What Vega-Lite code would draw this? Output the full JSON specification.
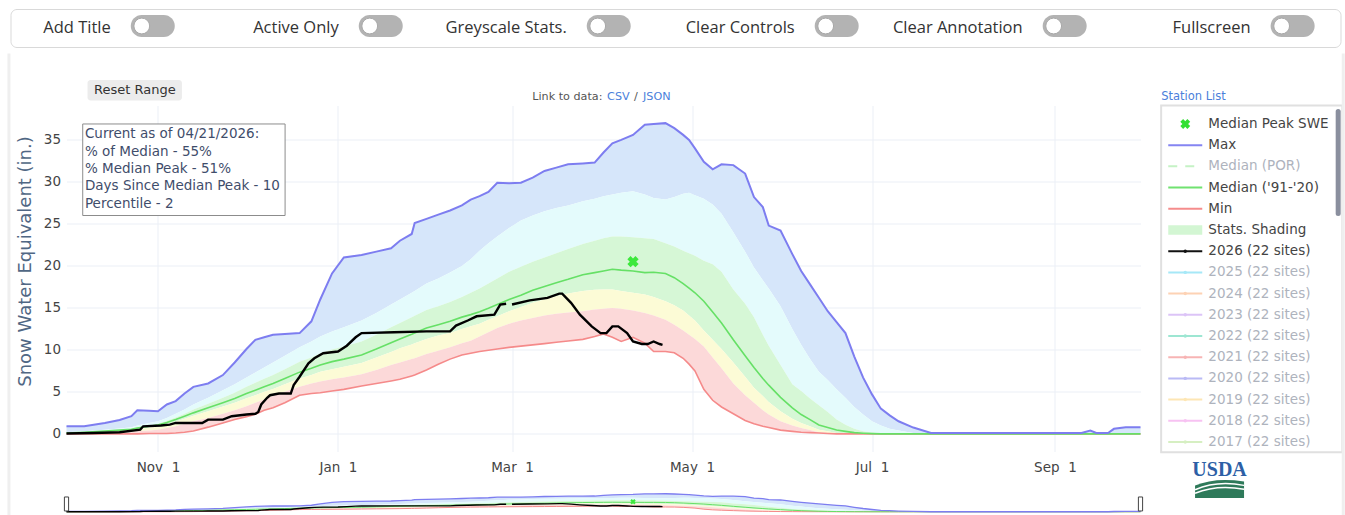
{
"$schema": "https://vega.github.io/schema/vega-lite/v6.json",
"background": "#ffffff",
"padding": {"left": 6.5, "top": 8, "right": 0, "bottom": 0},
"bounds": "flush",
"spacing": 58.5,
"config": {"view": {"stroke": null}, "font": "DejaVu Sans"},
"datasets": {
"stats": [
{"date":"2025-10-01","max":0.9,"p90":0.2,"p70":0.12,"med":0.1,"p30":0.05,"p10":0,"min":0},
{"date":"2025-10-07","max":0.9,"p90":0.3,"p70":0.22,"med":0.2,"p30":0.1,"p10":0.05,"min":0},
{"date":"2025-10-14","max":1.3,"p90":0.5,"p70":0.4,"med":0.35,"p30":0.25,"p10":0.1,"min":0},
{"date":"2025-10-19","max":1.65,"p90":0.65,"p70":0.5,"med":0.45,"p30":0.35,"p10":0.15,"min":0},
{"date":"2025-10-23","max":2.1,"p90":0.8,"p70":0.62,"med":0.55,"p30":0.45,"p10":0.2,"min":0},
{"date":"2025-10-25","max":2.8,"p90":1.0,"p70":0.8,"med":0.7,"p30":0.55,"p10":0.3,"min":0},
{"date":"2025-10-29","max":2.75,"p90":1.3,"p70":1.0,"med":0.9,"p30":0.75,"p10":0.4,"min":0.05},
{"date":"2025-11-01","max":2.7,"p90":1.5,"p70":1.2,"med":1.05,"p30":0.9,"p10":0.5,"min":0.05},
{"date":"2025-11-04","max":3.5,"p90":1.9,"p70":1.55,"med":1.35,"p30":1.15,"p10":0.7,"min":0.05},
{"date":"2025-11-07","max":3.9,"p90":2.4,"p70":1.95,"med":1.7,"p30":1.45,"p10":0.9,"min":0.1},
{"date":"2025-11-10","max":4.8,"p90":2.9,"p70":2.4,"med":2.1,"p30":1.8,"p10":1.2,"min":0.2},
{"date":"2025-11-13","max":5.6,"p90":3.5,"p70":2.9,"med":2.5,"p30":2.15,"p10":1.5,"min":0.35},
{"date":"2025-11-18","max":6.0,"p90":4.3,"p70":3.6,"med":3.1,"p30":2.7,"p10":1.9,"min":0.8},
{"date":"2025-11-23","max":7.0,"p90":5.2,"p70":4.3,"med":3.7,"p30":3.25,"p10":2.4,"min":1.3},
{"date":"2025-11-27","max":8.5,"p90":5.9,"p70":4.9,"med":4.2,"p30":3.7,"p10":2.8,"min":1.7},
{"date":"2025-12-01","max":10.1,"p90":6.7,"p70":5.6,"med":4.8,"p30":4.25,"p10":3.3,"min":2.05},
{"date":"2025-12-04","max":11.2,"p90":7.3,"p70":6.1,"med":5.2,"p30":4.6,"p10":3.7,"min":2.35},
{"date":"2025-12-07","max":11.5,"p90":7.9,"p70":6.55,"med":5.6,"p30":5.0,"p10":4.1,"min":2.8},
{"date":"2025-12-10","max":11.8,"p90":8.5,"p70":7.0,"med":6.0,"p30":5.35,"p10":4.5,"min":3.1},
{"date":"2025-12-14","max":11.9,"p90":9.3,"p70":7.7,"med":6.6,"p30":5.9,"p10":5.0,"min":3.7},
{"date":"2025-12-19","max":12.0,"p90":10.3,"p70":8.6,"med":7.35,"p30":6.6,"p10":5.6,"min":4.6},
{"date":"2025-12-23","max":13.4,"p90":11.0,"p70":9.1,"med":7.8,"p30":7.0,"p10":6.0,"min":4.8},
{"date":"2025-12-26","max":16.0,"p90":11.6,"p70":9.6,"med":8.2,"p30":7.4,"p10":6.25,"min":4.9},
{"date":"2025-12-30","max":19.1,"p90":12.2,"p70":10.05,"med":8.6,"p30":7.7,"p10":6.5,"min":5.1},
{"date":"2026-01-03","max":21.0,"p90":12.7,"p70":10.4,"med":8.9,"p30":8.0,"p10":6.7,"min":5.3},
{"date":"2026-01-09","max":21.3,"p90":13.5,"p70":11.0,"med":9.4,"p30":8.45,"p10":7.1,"min":5.7},
{"date":"2026-01-14","max":21.7,"p90":14.4,"p70":11.8,"med":10.1,"p30":9.1,"p10":7.6,"min":6.0},
{"date":"2026-01-19","max":22.1,"p90":15.4,"p70":12.7,"med":10.85,"p30":9.75,"p10":8.2,"min":6.3},
{"date":"2026-01-22","max":23.0,"p90":16.0,"p70":13.2,"med":11.3,"p30":10.2,"p10":8.5,"min":6.5},
{"date":"2026-01-26","max":23.8,"p90":16.8,"p70":13.9,"med":11.85,"p30":10.65,"p10":8.9,"min":6.9},
{"date":"2026-01-27","max":25.1,"p90":17.0,"p70":14.05,"med":12.0,"p30":10.8,"p10":9.0,"min":7.0},
{"date":"2026-01-31","max":25.6,"p90":17.9,"p70":14.75,"med":12.6,"p30":11.3,"p10":9.5,"min":7.6},
{"date":"2026-02-04","max":26.1,"p90":18.5,"p70":15.2,"med":13.0,"p30":11.7,"p10":9.9,"min":8.3},
{"date":"2026-02-08","max":26.6,"p90":19.2,"p70":15.7,"med":13.4,"p30":12.0,"p10":10.3,"min":8.9},
{"date":"2026-02-12","max":27.2,"p90":20.0,"p70":16.3,"med":13.9,"p30":12.5,"p10":10.8,"min":9.4},
{"date":"2026-02-15","max":27.9,"p90":20.8,"p70":16.8,"med":14.2,"p30":12.8,"p10":11.1,"min":9.6},
{"date":"2026-02-18","max":28.3,"p90":21.8,"p70":17.3,"med":14.55,"p30":13.1,"p10":11.6,"min":9.8},
{"date":"2026-02-21","max":28.8,"p90":22.7,"p70":17.9,"med":14.95,"p30":13.6,"p10":12.1,"min":9.95},
{"date":"2026-02-24","max":29.9,"p90":23.5,"p70":18.5,"med":15.4,"p30":14.0,"p10":12.6,"min":10.1},
{"date":"2026-02-28","max":29.85,"p90":24.5,"p70":19.3,"med":16.0,"p30":14.6,"p10":13.1,"min":10.3},
{"date":"2026-03-04","max":29.9,"p90":25.4,"p70":19.9,"med":16.5,"p30":15.1,"p10":13.5,"min":10.45},
{"date":"2026-03-08","max":30.5,"p90":26.0,"p70":20.5,"med":17.1,"p30":15.6,"p10":13.8,"min":10.6},
{"date":"2026-03-12","max":31.3,"p90":26.5,"p70":21.0,"med":17.55,"p30":16.0,"p10":14.1,"min":10.75},
{"date":"2026-03-16","max":31.7,"p90":26.9,"p70":21.5,"med":18.0,"p30":16.4,"p10":14.3,"min":10.9},
{"date":"2026-03-20","max":32.1,"p90":27.2,"p70":22.0,"med":18.4,"p30":16.7,"p10":14.45,"min":11.05},
{"date":"2026-03-25","max":32.2,"p90":27.7,"p70":22.6,"med":18.95,"p30":17.0,"p10":14.6,"min":11.25},
{"date":"2026-03-29","max":32.3,"p90":28.0,"p70":23.0,"med":19.2,"p30":17.15,"p10":14.8,"min":11.6},
{"date":"2026-04-01","max":33.5,"p90":28.3,"p70":23.3,"med":19.4,"p30":17.2,"p10":14.9,"min":11.9},
{"date":"2026-04-04","max":34.6,"p90":28.5,"p70":23.5,"med":19.6,"p30":17.2,"p10":15.0,"min":11.5},
{"date":"2026-04-07","max":35.0,"p90":28.7,"p70":23.5,"med":19.5,"p30":17.0,"p10":14.9,"min":11.0},
{"date":"2026-04-11","max":35.6,"p90":28.9,"p70":23.4,"med":19.4,"p30":16.8,"p10":14.7,"min":11.5},
{"date":"2026-04-15","max":36.8,"p90":28.5,"p70":23.3,"med":19.2,"p30":16.6,"p10":14.4,"min":10.8},
{"date":"2026-04-18","max":36.9,"p90":28.1,"p70":23.2,"med":19.25,"p30":16.3,"p10":14.1,"min":9.8},
{"date":"2026-04-22","max":37.0,"p90":27.9,"p70":22.7,"med":19.1,"p30":15.8,"p10":13.6,"min":9.8},
{"date":"2026-04-25","max":36.4,"p90":28.2,"p70":22.3,"med":18.6,"p30":15.3,"p10":13.0,"min":9.65},
{"date":"2026-04-28","max":35.6,"p90":28.6,"p70":21.8,"med":17.9,"p30":14.7,"p10":12.3,"min":9.0},
{"date":"2026-04-30","max":35.0,"p90":28.7,"p70":21.5,"med":17.35,"p30":14.1,"p10":11.8,"min":8.3},
{"date":"2026-05-02","max":34.0,"p90":28.4,"p70":21.2,"med":16.8,"p30":13.5,"p10":11.3,"min":7.5},
{"date":"2026-05-05","max":32.4,"p90":28.0,"p70":20.6,"med":15.8,"p30":12.3,"p10":10.4,"min":5.3},
{"date":"2026-05-08","max":31.5,"p90":27.3,"p70":20.2,"med":14.5,"p30":11.2,"p10":9.1,"min":4.0},
{"date":"2026-05-11","max":32.1,"p90":26.2,"p70":19.3,"med":13.2,"p30":10.1,"p10":7.8,"min":3.2},
{"date":"2026-05-15","max":32.0,"p90":24.0,"p70":17.2,"med":11.2,"p30":8.5,"p10":6.0,"min":2.4},
{"date":"2026-05-19","max":31.0,"p90":21.7,"p70":15.5,"med":9.3,"p30":6.8,"p10":4.6,"min":1.6},
{"date":"2026-05-22","max":28.2,"p90":19.8,"p70":13.9,"med":7.9,"p30":5.5,"p10":3.7,"min":1.2},
{"date":"2026-05-25","max":27.0,"p90":18.3,"p70":11.8,"med":6.6,"p30":4.5,"p10":2.8,"min":0.9},
{"date":"2026-05-27","max":24.8,"p90":17.3,"p70":10.5,"med":5.8,"p30":3.8,"p10":2.3,"min":0.75},
{"date":"2026-05-31","max":24.2,"p90":15.2,"p70":8.2,"med":4.35,"p30":2.7,"p10":1.5,"min":0.45},
{"date":"2026-06-04","max":21.4,"p90":12.5,"p70":5.9,"med":3.1,"p30":1.8,"p10":1.0,"min":0.3},
{"date":"2026-06-07","max":19.4,"p90":10.6,"p70":5.1,"med":2.3,"p30":1.3,"p10":0.7,"min":0.2},
{"date":"2026-06-10","max":17.8,"p90":8.9,"p70":4.2,"med":1.7,"p30":0.9,"p10":0.45,"min":0.15},
{"date":"2026-06-13","max":16.2,"p90":7.4,"p70":3.4,"med":1.05,"p30":0.5,"p10":0.2,"min":0.1},
{"date":"2026-06-16","max":14.6,"p90":6.4,"p70":2.6,"med":0.75,"p30":0.3,"p10":0.1,"min":0.05},
{"date":"2026-06-19","max":13.3,"p90":5.3,"p70":1.7,"med":0.45,"p30":0.1,"p10":0,"min":0},
{"date":"2026-06-22","max":12.0,"p90":4.3,"p70":1.1,"med":0.3,"p30":0,"p10":0,"min":0},
{"date":"2026-06-25","max":9.2,"p90":3.2,"p70":0.6,"med":0.15,"p30":0,"p10":0,"min":0},
{"date":"2026-06-28","max":6.7,"p90":2.3,"p70":0.3,"med":0.08,"p30":0,"p10":0,"min":0},
{"date":"2026-07-01","max":4.7,"p90":1.5,"p70":0.15,"med":0.03,"p30":0,"p10":0,"min":0},
{"date":"2026-07-04","max":3.0,"p90":1.0,"p70":0.05,"med":0,"p30":0,"p10":0,"min":0},
{"date":"2026-07-07","max":2.2,"p90":0.6,"p70":0,"med":0,"p30":0,"p10":0,"min":0},
{"date":"2026-07-10","max":1.5,"p90":0.4,"p70":0,"med":0,"p30":0,"p10":0,"min":0},
{"date":"2026-07-15","max":0.75,"p90":0.1,"p70":0,"med":0,"p30":0,"p10":0,"min":0},
{"date":"2026-07-21","max":0.1,"p90":0,"p70":0,"med":0,"p30":0,"p10":0,"min":0},
{"date":"2026-07-28","max":0.1,"p90":0,"p70":0,"med":0,"p30":0,"p10":0,"min":0},
{"date":"2026-08-17","max":0.1,"p90":0,"p70":0,"med":0,"p30":0,"p10":0,"min":0},
{"date":"2026-09-10","max":0.1,"p90":0,"p70":0,"med":0,"p30":0,"p10":0,"min":0},
{"date":"2026-09-13","max":0.4,"p90":0,"p70":0,"med":0,"p30":0,"p10":0,"min":0},
{"date":"2026-09-15","max":0.1,"p90":0,"p70":0,"med":0,"p30":0,"p10":0,"min":0},
{"date":"2026-09-19","max":0.1,"p90":0,"p70":0,"med":0,"p30":0,"p10":0,"min":0},
{"date":"2026-09-21","max":0.6,"p90":0,"p70":0,"med":0,"p30":0,"p10":0,"min":0},
{"date":"2026-09-25","max":0.8,"p90":0,"p70":0,"med":0,"p30":0,"p10":0,"min":0},
{"date":"2026-09-30","max":0.8,"p90":0,"p70":0,"med":0,"p30":0,"p10":0,"min":0}
],
"cur": [
{"date":"2025-10-01","swe":0.05},{"date":"2025-10-10","swe":0.1},{"date":"2025-10-19","swe":0.2},{"date":"2025-10-26","swe":0.5},{"date":"2025-10-27","swe":0.9},{"date":"2025-11-02","swe":1.0},{"date":"2025-11-05","swe":1.1},{"date":"2025-11-07","swe":1.3},{"date":"2025-11-16","swe":1.3},{"date":"2025-11-18","swe":1.7},{"date":"2025-11-23","swe":1.7},{"date":"2025-11-26","swe":2.1},{"date":"2025-12-01","swe":2.3},{"date":"2025-12-04","swe":2.4},{"date":"2025-12-05","swe":2.6},{"date":"2025-12-06","swe":3.5},{"date":"2025-12-08","swe":4.3},{"date":"2025-12-09","swe":4.6},{"date":"2025-12-12","swe":4.8},{"date":"2025-12-16","swe":4.8},{"date":"2025-12-17","swe":5.8},{"date":"2025-12-19","swe":6.8},{"date":"2025-12-22","swe":8.4},{"date":"2025-12-24","swe":9.0},{"date":"2025-12-27","swe":9.6},{"date":"2026-01-01","swe":9.8},{"date":"2026-01-04","swe":10.5},{"date":"2026-01-07","swe":11.5},{"date":"2026-01-09","swe":12.0},{"date":"2026-01-20","swe":12.1},{"date":"2026-01-31","swe":12.2},{"date":"2026-02-08","swe":12.2},{"date":"2026-02-10","swe":12.9},{"date":"2026-02-14","swe":13.5},{"date":"2026-02-17","swe":14.0},{"date":"2026-02-23","swe":14.2},{"date":"2026-02-25","swe":15.4},{"date":"2026-02-27","swe":15.5},{"date":"2026-02-28","swe":null},{"date":"2026-03-01","swe":15.4},{"date":"2026-03-07","swe":15.9},{"date":"2026-03-13","swe":16.2},{"date":"2026-03-17","swe":16.7},{"date":"2026-03-18","swe":16.7},{"date":"2026-03-21","swe":15.6},{"date":"2026-03-24","swe":14.2},{"date":"2026-03-28","swe":12.8},{"date":"2026-03-31","swe":12.0},{"date":"2026-04-02","swe":12.0},{"date":"2026-04-04","swe":12.8},{"date":"2026-04-06","swe":12.8},{"date":"2026-04-09","swe":12.0},{"date":"2026-04-11","swe":11.0},{"date":"2026-04-14","swe":10.7},{"date":"2026-04-16","swe":10.7},{"date":"2026-04-18","swe":11.0},{"date":"2026-04-20","swe":10.7},{"date":"2026-04-21","swe":10.6}
],
"peak": [{"date":"2026-04-11","swe":20.5}]
},
"vconcat": [
{
"width": 1330, "height": 38,
"view": {"stroke": "#d9d9d9", "cornerRadius": 6, "strokeWidth": 1},
"data": {"values": [{"label":"Add Title"},{"label":"Active Only"},{"label":"Greyscale Stats."},{"label":"Clear Controls"},{"label":"Clear Annotation"},{"label":"Fullscreen"}]},
"encoding": {"x": {"field": "label", "type": "nominal", "sort": null, "axis": null, "scale": {"type": "point", "padding": 0.417, "align": 0.58}}},
"layer": [
{"mark": {"type": "text", "align": "right", "dx": -10, "fontSize": 16.5, "font": "Open Sans", "color": "#333333"}, "encoding": {"text": {"field": "label"}}},
{"mark": {"type": "point", "shape": "M-0.5,-0.5L0.5,-0.5A0.5,0.5,0,0,1,0.5,0.5L-0.5,0.5A0.5,0.5,0,0,1,-0.5,-0.5Z", "size": 1936, "filled": true, "color": "#b3b3b3", "opacity": 1, "xOffset": 32, "yOffset": -2}},
{"mark": {"type": "point", "shape": "circle", "size": 250, "filled": true, "color": "#ffffff", "stroke": "#a8a8a8", "strokeWidth": 1, "opacity": 1, "xOffset": 21, "yOffset": -2}}
]
},
{
"spacing": 8,
"bounds": "flush",
"hconcat": [
{"width": 47.5, "height": 10, "data": {"values": [{}]}, "mark": {"type": "text"}, "encoding": {"text": {"value": ""}}},
{
"spacing": 41.5,
"bounds": "flush",
"vconcat": [
{
"width": 1074, "height": 346,
"resolve": {"scale": {"y": "independent"}},
"layer": [
{
"layer": [
{"data": {"name": "stats"}, "mark": {"type": "area", "color": "#d6e6fa"},
 "encoding": {
  "x": {"field": "date", "type": "temporal",
   "scale": {"type": "utc", "domain": [{"year":2025,"month":10,"date":1,"utc":true},{"year":2026,"month":9,"date":30,"utc":true}]},
   "axis": {"title": null, "values": [{"year":2025,"month":11,"date":1,"utc":true},{"year":2026,"month":1,"date":1,"utc":true},{"year":2026,"month":3,"date":1,"utc":true},{"year":2026,"month":5,"date":1,"utc":true},{"year":2026,"month":7,"date":1,"utc":true},{"year":2026,"month":9,"date":1,"utc":true}],
    "labelExpr": "utcFormat(datum.value, '%b') + '\u00a0\u00a0' + utcFormat(datum.value, '%-d')",
    "grid": true, "gridColor": "#ebeff6", "domain": false, "ticks": false, "labelPadding": 9, "labelFontSize": 13.5, "labelColor": "#444444", "labelFont": "DejaVu Sans"}},
  "y": {"field": "p90", "type": "quantitative",
   "scale": {"domain": [-2.1, 39.1], "nice": false, "zero": false},
   "axis": {"title": "Snow Water Equivalent (in.)", "values": [0,5,10,15,20,25,30,35], "grid": true, "gridColor": "#ebeff6", "domain": false, "ticks": false, "labelPadding": 6, "labelFontSize": 13.5, "labelColor": "#444444", "labelFont": "DejaVu Sans", "titleFont": "DejaVu Sans", "titleFontSize": 18, "titleFontWeight": "normal", "titleColor": "#506784", "titlePadding": 9, "titleY": 155.5}},
  "y2": {"field": "max"}}},
{"data": {"name": "stats"}, "mark": {"type": "area", "color": "#e4fbfc"}, "encoding": {"x": {"field": "date", "type": "temporal"}, "y": {"field": "p70", "type": "quantitative"}, "y2": {"field": "p90"}}},
{"data": {"name": "stats"}, "mark": {"type": "area", "color": "#d6f7d6"}, "encoding": {"x": {"field": "date", "type": "temporal"}, "y": {"field": "p30", "type": "quantitative"}, "y2": {"field": "p70"}}},
{"data": {"name": "stats"}, "mark": {"type": "area", "color": "#fcfbd6"}, "encoding": {"x": {"field": "date", "type": "temporal"}, "y": {"field": "p10", "type": "quantitative"}, "y2": {"field": "p30"}}},
{"data": {"name": "stats"}, "mark": {"type": "area", "color": "#fcd9d9"}, "encoding": {"x": {"field": "date", "type": "temporal"}, "y": {"field": "min", "type": "quantitative"}, "y2": {"field": "p10"}}},
{"data": {"name": "stats"}, "mark": {"type": "line", "color": "#f58a8a", "strokeWidth": 1.6}, "encoding": {"x": {"field": "date", "type": "temporal"}, "y": {"field": "min", "type": "quantitative"}}},
{"data": {"name": "stats"}, "mark": {"type": "line", "color": "#66e066", "strokeWidth": 1.6}, "encoding": {"x": {"field": "date", "type": "temporal"}, "y": {"field": "med", "type": "quantitative"}}},
{"data": {"name": "stats"}, "mark": {"type": "line", "color": "#7d7df0", "strokeWidth": 2}, "encoding": {"x": {"field": "date", "type": "temporal"}, "y": {"field": "max", "type": "quantitative"}}},
{"data": {"name": "cur"}, "mark": {"type": "line", "color": "#000000", "strokeWidth": 2.4, "invalid": "break-paths-show-domains"}, "encoding": {"x": {"field": "date", "type": "temporal"}, "y": {"field": "swe", "type": "quantitative"}}},
{"data": {"name": "peak"}, "mark": {"type": "point", "shape": "cross", "angle": 45, "size": 130, "filled": true, "color": "#3de83d", "opacity": 1}, "encoding": {"x": {"field": "date", "type": "temporal"}, "y": {"field": "swe", "type": "quantitative"}}},
{"data": {"values": [{}]}, "mark": {"type": "rect", "fill": "#ffffff", "stroke": "#8c8c8c", "strokeWidth": 1},
 "encoding": {"x": {"datum": {"year":2025,"month":10,"date":6,"hours":12,"utc":true}, "type": "temporal"}, "x2": {"datum": {"year":2025,"month":12,"date":14,"hours":2,"utc":true}}, "y": {"datum": 36.9, "type": "quantitative"}, "y2": {"datum": 26.0}}},
{"data": {"values": [{}]}, "mark": {"type": "text", "align": "left", "baseline": "top", "fontSize": 13.5, "lineHeight": 17.3, "color": "#3f4d6b", "font": "DejaVu Sans"},
 "encoding": {"x": {"datum": {"year":2025,"month":10,"date":7,"hours":6,"utc":true}, "type": "temporal"}, "y": {"datum": 36.5, "type": "quantitative"},
  "text": {"value": ["Current as of 04/21/2026:", "% of Median - 55%", "% Median Peak - 51%", "Days Since Median Peak - 10", "Percentile - 2"]}}},
{"data": {"values": [{}]}, "mark": {"type": "rect", "fill": "#ececec", "cornerRadius": 3},
 "encoding": {"x": {"datum": {"year":2025,"month":10,"date":8,"hours":3,"utc":true}, "type": "temporal"}, "x2": {"datum": {"year":2025,"month":11,"date":9,"hours":3,"utc":true}}, "y": {"datum": 42.15, "type": "quantitative"}, "y2": {"datum": 39.7}}},
{"data": {"values": [{}]}, "mark": {"type": "text", "align": "center", "baseline": "middle", "fontSize": 13, "color": "#333333", "font": "DejaVu Sans"},
 "encoding": {"x": {"datum": {"year":2025,"month":10,"date":24,"hours":4,"utc":true}, "type": "temporal"}, "y": {"datum": 40.95, "type": "quantitative"}, "text": {"value": "Reset Range"}}},
{"data": {"values": [{}]}, "mark": {"type": "text", "align": "right", "baseline": "middle", "fontSize": 11.2, "color": "#555555", "font": "DejaVu Sans", "dx": -1},
 "encoding": {"x": {"datum": {"year":2026,"month":4,"date":1,"utc":true}, "type": "temporal"}, "y": {"datum": 40.08, "type": "quantitative"}, "text": {"value": "Link to data:"}}},
{"data": {"values": [{}]}, "mark": {"type": "text", "align": "left", "baseline": "middle", "fontSize": 11.2, "color": "#4b7fdb", "font": "DejaVu Sans", "dx": 3.6},
 "encoding": {"x": {"datum": {"year":2026,"month":4,"date":1,"utc":true}, "type": "temporal"}, "y": {"datum": 40.08, "type": "quantitative"}, "text": {"value": "CSV"}}},
{"data": {"values": [{}]}, "mark": {"type": "text", "align": "left", "baseline": "middle", "fontSize": 11.2, "color": "#555555", "font": "DejaVu Sans", "dx": 30.5},
 "encoding": {"x": {"datum": {"year":2026,"month":4,"date":1,"utc":true}, "type": "temporal"}, "y": {"datum": 40.08, "type": "quantitative"}, "text": {"value": "/"}}},
{"data": {"values": [{}]}, "mark": {"type": "text", "align": "left", "baseline": "middle", "fontSize": 11.2, "color": "#4b7fdb", "font": "DejaVu Sans", "dx": 39.5},
 "encoding": {"x": {"datum": {"year":2026,"month":4,"date":1,"utc":true}, "type": "temporal"}, "y": {"datum": 40.08, "type": "quantitative"}, "text": {"value": "JSON"}}},
{"data": {"values": [{}]}, "mark": {"type": "text", "align": "left", "baseline": "middle", "fontSize": 11.5, "color": "#4b7fdb", "font": "DejaVu Sans"},
 "encoding": {"x": {"datum": {"year":2026,"month":10,"date":7,"hours":0,"utc":true}, "type": "temporal"}, "y": {"datum": 40.08, "type": "quantitative"}, "text": {"value": "Station List"}}},
{"data": {"values": [{}]}, "mark": {"type": "rect", "fill": "#ffffff", "stroke": "#e0e0e0", "strokeWidth": 2},
 "encoding": {"x": {"datum": {"year":2026,"month":10,"date":7,"hours":0,"utc":true}, "type": "temporal"}, "x2": {"datum": {"year":2026,"month":12,"date":7,"hours":10,"utc":true}}, "y": {"datum": 39.1, "type": "quantitative"}, "y2": {"datum": -2.2}}},
{"data": {"values": [{}]}, "mark": {"type": "rule", "stroke": "#efefef", "strokeWidth": 3},
 "encoding": {"x": {"datum": {"year":2025,"month":9,"date":11,"hours":12,"utc":true}, "type": "temporal"}, "y": {"datum": 45.3, "type": "quantitative"}, "y2": {"datum": -10}}},
{"data": {"values": [{}]}, "mark": {"type": "rule", "stroke": "#efefef", "strokeWidth": 3},
 "encoding": {"x": {"datum": {"year":2026,"month":12,"date":7,"hours":17,"utc":true}, "type": "temporal"}, "y": {"datum": 45.3, "type": "quantitative"}, "y2": {"datum": -10}}},
{"data": {"values": [{}]}, "mark": {"type": "text", "align": "center", "baseline": "middle", "fontSize": 20, "fontWeight": "bold", "color": "#2d5fa6", "font": "Liberation Serif"},
 "encoding": {"x": {"datum": {"year":2026,"month":10,"date":26,"hours":19,"utc":true}, "type": "temporal"}, "y": {"datum": -4.3, "type": "quantitative"}, "text": {"value": "USDA"}}},
{"data": {"values": [{}]}, "mark": {"type": "point", "shape": "M-1,-0.15Q-0.2,-0.5,1,-0.32L1,0.36L-1,0.36Z", "size": 2401, "filled": true, "color": "#2e7a5a", "opacity": 1},
 "encoding": {"x": {"datum": {"year":2026,"month":10,"date":26,"hours":19,"utc":true}, "type": "temporal"}, "y": {"datum": -6.6, "type": "quantitative"}}},
{"data": {"values": [{}]}, "mark": {"type": "point", "shape": "M-1,0.02Q-0.1,-0.38,1,-0.16M-1,0.16Q-0.1,-0.2,1,0", "size": 2401, "filled": false, "color": "#ffffff", "strokeWidth": 1.5, "opacity": 1},
 "encoding": {"x": {"datum": {"year":2026,"month":10,"date":26,"hours":19,"utc":true}, "type": "temporal"}, "y": {"datum": -6.6, "type": "quantitative"}}}
]
},
{
"data": {"values": [
{"label":"Median Peak SWE","kind":"marker","on":true},
{"label":"Max","kind":"line","on":true},
{"label":"Median (POR)","kind":"dash","on":false},
{"label":"Median ('91-'20)","kind":"line","on":true},
{"label":"Min","kind":"line","on":true},
{"label":"Stats. Shading","kind":"shade","on":true},
{"label":"2026 (22 sites)","kind":"year","on":true},
{"label":"2025 (22 sites)","kind":"year","on":false},
{"label":"2024 (22 sites)","kind":"year","on":false},
{"label":"2023 (22 sites)","kind":"year","on":false},
{"label":"2022 (22 sites)","kind":"year","on":false},
{"label":"2021 (22 sites)","kind":"year","on":false},
{"label":"2020 (22 sites)","kind":"year","on":false},
{"label":"2019 (22 sites)","kind":"year","on":false},
{"label":"2018 (22 sites)","kind":"year","on":false},
{"label":"2017 (22 sites)","kind":"year","on":false}
]},
"layer": [
{"transform": [{"filter": "datum.kind == 'line' || datum.kind == 'year'"}],
 "mark": {"type": "point", "shape": "stroke", "size": 1156, "strokeWidth": 2, "opacity": 1, "filled": false},
 "encoding": {
  "x": {"datum": {"year":2026,"month":10,"date":15,"hours":4,"utc":true}, "type": "temporal"},
  "y": {"field": "label", "type": "nominal", "axis": null,
   "scale": {"type": "point", "padding": 0.66, "align": 0.66, "domain": ["Median Peak SWE","Max","Median (POR)","Median ('91-'20)","Min","Stats. Shading","2026 (22 sites)","2025 (22 sites)","2024 (22 sites)","2023 (22 sites)","2022 (22 sites)","2021 (22 sites)","2020 (22 sites)","2019 (22 sites)","2018 (22 sites)","2017 (22 sites)"]}},
  "color": {"field": "label", "type": "nominal", "legend": null,
   "scale": {"domain": ["Median Peak SWE","Max","Median (POR)","Median ('91-'20)","Min","Stats. Shading","2026 (22 sites)","2025 (22 sites)","2024 (22 sites)","2023 (22 sites)","2022 (22 sites)","2021 (22 sites)","2020 (22 sites)","2019 (22 sites)","2018 (22 sites)","2017 (22 sites)"],
     "range": ["#33e033","#8585f2","#c5f2c5","#70e270","#f58c8c","#d3f6d3","#111111","#a6e8f7","#fdd2b4","#dcc4f7","#9de6d2","#f7b4b4","#babaf5","#fde6b4","#f7c2f2","#d6efc2"]}}}},
{"transform": [{"filter": "datum.kind == 'dash'"}],
 "mark": {"type": "point", "shape": "stroke", "size": 1156, "strokeWidth": 2, "opacity": 1, "filled": false, "strokeDash": [9, 8]},
 "encoding": {"x": {"datum": {"year":2026,"month":10,"date":15,"hours":4,"utc":true}, "type": "temporal"}, "y": {"field": "label", "type": "nominal"}, "color": {"field": "label", "type": "nominal", "legend": null}}},
{"transform": [{"filter": "datum.kind == 'year'"}],
 "mark": {"type": "point", "shape": "circle", "size": 12, "filled": true, "opacity": 1},
 "encoding": {"x": {"datum": {"year":2026,"month":10,"date":15,"hours":4,"utc":true}, "type": "temporal"}, "y": {"field": "label", "type": "nominal"}, "color": {"field": "label", "type": "nominal", "legend": null}}},
{"transform": [{"filter": "datum.kind == 'shade'"}],
 "mark": {"type": "point", "shape": "M-1,-0.28L1,-0.28L1,0.28L-1,0.28Z", "size": 1156, "filled": true, "opacity": 1},
 "encoding": {"x": {"datum": {"year":2026,"month":10,"date":15,"hours":4,"utc":true}, "type": "temporal"}, "y": {"field": "label", "type": "nominal"}, "color": {"field": "label", "type": "nominal", "legend": null}}},
{"transform": [{"filter": "datum.kind == 'marker'"}],
 "mark": {"type": "point", "shape": "cross", "angle": 45, "size": 100, "filled": true, "opacity": 1},
 "encoding": {"x": {"datum": {"year":2026,"month":10,"date":15,"hours":4,"utc":true}, "type": "temporal"}, "y": {"field": "label", "type": "nominal"}, "color": {"field": "label", "type": "nominal", "legend": null}}},
{"mark": {"type": "text", "align": "left", "baseline": "middle", "fontSize": 13.5, "font": "DejaVu Sans"},
 "encoding": {"x": {"datum": {"year":2026,"month":10,"date":23,"utc":true}, "type": "temporal"}, "y": {"field": "label", "type": "nominal"}, "text": {"field": "label"}, "color": {"condition": {"test": "datum.on", "value": "#444444"}, "value": "#aeb3bd"}}},
{"data": {"values": [{}]}, "mark": {"type": "rule", "strokeWidth": 5, "color": "#8a8f9e", "strokeCap": "round", "yOffset": -12.5, "y2Offset": -16.5},
 "encoding": {"x": {"datum": {"year":2026,"month":12,"date":6,"utc":true}, "type": "temporal"}, "y": {"datum": "Median Peak SWE", "type": "nominal"}, "y2": {"datum": "Stats. Shading"}}}
]
}
]
},
{
"width": 1074, "height": 20,
"layer": [
{"data": {"name": "stats"}, "mark": {"type": "area", "color": "#d6e6fa"},
 "encoding": {"x": {"field": "date", "type": "temporal", "axis": null, "scale": {"type": "utc", "domain": [{"year":2025,"month":10,"date":1,"utc":true},{"year":2026,"month":9,"date":30,"utc":true}]}},
  "y": {"field": "p90", "type": "quantitative", "axis": null, "scale": {"domain": [-2.5, 38.5], "nice": false, "zero": false}}, "y2": {"field": "max"}}},
{"data": {"name": "stats"}, "mark": {"type": "area", "color": "#e4fbfc"}, "encoding": {"x": {"field": "date", "type": "temporal"}, "y": {"field": "p70", "type": "quantitative"}, "y2": {"field": "p90"}}},
{"data": {"name": "stats"}, "mark": {"type": "area", "color": "#d6f7d6"}, "encoding": {"x": {"field": "date", "type": "temporal"}, "y": {"field": "p30", "type": "quantitative"}, "y2": {"field": "p70"}}},
{"data": {"name": "stats"}, "mark": {"type": "area", "color": "#fcfbd6"}, "encoding": {"x": {"field": "date", "type": "temporal"}, "y": {"field": "p10", "type": "quantitative"}, "y2": {"field": "p30"}}},
{"data": {"name": "stats"}, "mark": {"type": "area", "color": "#fcd9d9"}, "encoding": {"x": {"field": "date", "type": "temporal"}, "y": {"field": "min", "type": "quantitative"}, "y2": {"field": "p10"}}},
{"data": {"name": "stats"}, "mark": {"type": "line", "color": "#f58a8a", "strokeWidth": 1}, "encoding": {"x": {"field": "date", "type": "temporal"}, "y": {"field": "min", "type": "quantitative"}}},
{"data": {"name": "stats"}, "mark": {"type": "line", "color": "#66e066", "strokeWidth": 1}, "encoding": {"x": {"field": "date", "type": "temporal"}, "y": {"field": "med", "type": "quantitative"}}},
{"data": {"name": "stats"}, "mark": {"type": "line", "color": "#7d7df0", "strokeWidth": 1.3}, "encoding": {"x": {"field": "date", "type": "temporal"}, "y": {"field": "max", "type": "quantitative"}}},
{"data": {"name": "cur"}, "mark": {"type": "line", "color": "#000000", "strokeWidth": 1.4, "invalid": "break-paths-show-domains"}, "encoding": {"x": {"field": "date", "type": "temporal"}, "y": {"field": "swe", "type": "quantitative"}}},
{"data": {"name": "peak"}, "mark": {"type": "point", "shape": "cross", "angle": 45, "size": 30, "filled": true, "color": "#3de83d", "opacity": 1}, "encoding": {"x": {"field": "date", "type": "temporal"}, "y": {"field": "swe", "type": "quantitative"}}},
{"data": {"values": [{}]}, "mark": {"type": "point", "shape": "M-0.3,-1L0.3,-1L0.3,1L-0.3,1Z", "size": 196, "filled": true, "fill": "#ffffff", "stroke": "#444444", "strokeWidth": 1, "opacity": 1},
 "encoding": {"x": {"datum": {"year":2025,"month":10,"date":1,"utc":true}, "type": "temporal"}, "y": {"datum": 16, "type": "quantitative"}}},
{"data": {"values": [{}]}, "mark": {"type": "point", "shape": "M-0.3,-1L0.3,-1L0.3,1L-0.3,1Z", "size": 196, "filled": true, "fill": "#ffffff", "stroke": "#444444", "strokeWidth": 1, "opacity": 1},
 "encoding": {"x": {"datum": {"year":2026,"month":9,"date":30,"utc":true}, "type": "temporal"}, "y": {"datum": 16, "type": "quantitative"}}}
]
}
]
}
]
}
]
}
